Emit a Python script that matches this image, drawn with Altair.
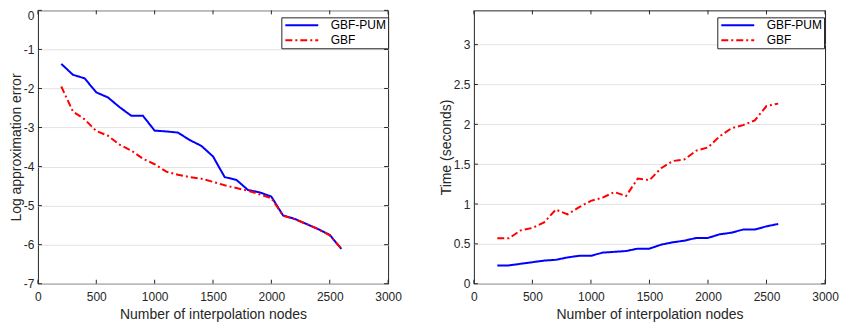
import altair as alt
import pandas as pd

# ---- data ----
nodes = [200, 300, 400, 500, 600, 700, 800, 900, 1000, 1100, 1200, 1300,
         1400, 1500, 1600, 1700, 1800, 1900, 2000, 2100, 2200, 2300, 2400,
         2500, 2600]
methods = ["GBF-PUM", "GBF"]
line_colors = ["#0000ff", "#ff0000"]

err_pum = [-1.37, -1.65, -1.74, -2.10, -2.23, -2.48, -2.70, -2.70, -3.08,
           -3.10, -3.13, -3.32, -3.47, -3.74, -4.27, -4.34, -4.60, -4.66,
           -4.77, -5.25, -5.34, -5.47, -5.60, -5.75, -6.11]
err_gbf = [-1.95, -2.59, -2.79, -3.09, -3.21, -3.44, -3.59, -3.80, -3.94,
           -4.13, -4.21, -4.27, -4.31, -4.39, -4.48, -4.55, -4.62, -4.71,
           -4.81, -5.26, -5.35, -5.47, -5.60, -5.76, -6.10]
time_pum = [0.23, 0.23, 0.25, 0.27, 0.29, 0.30, 0.33, 0.35, 0.35, 0.39,
            0.40, 0.41, 0.44, 0.44, 0.49, 0.52, 0.54, 0.575, 0.575, 0.62,
            0.64, 0.68, 0.68, 0.72, 0.75]
time_gbf = [0.57, 0.57, 0.67, 0.70, 0.77, 0.93, 0.87, 0.96, 1.04, 1.08,
            1.15, 1.10, 1.32, 1.30, 1.45, 1.54, 1.56, 1.67, 1.71, 1.85,
            1.95, 1.99, 2.05, 2.23, 2.26]

x_ticks = [0, 500, 1000, 1500, 2000, 2500, 3000]
err_ticks = [-7, -6, -5, -4, -3, -2, -1, 0]
time_ticks = [0, 0.5, 1, 1.5, 2, 2.5, 3]
x_domain = [0, 3000]
err_domain = [-7, 0]
time_domain = [0, 3.43]

x_title = "Number of interpolation nodes"
err_title = "Log approximation error"
time_title = "Time (seconds)"

FONT = "Liberation Sans"
INK = "#262626"


def panel(series_a, series_b, ydom, yticks, ytitle, w, h, legend_x, top_label_test):
    df = pd.DataFrame({
        "nodes": nodes + nodes,
        "value": series_a + series_b,
        "method": [methods[0]] * len(nodes) + [methods[1]] * len(nodes),
    })
    xs = alt.Scale(domain=x_domain, nice=False, zero=False)
    ys = alt.Scale(domain=ydom, nice=False, zero=False)
    leg = alt.Legend(
        title=None, orient="none", legendX=legend_x, legendY=7,
        symbolType="M-6.6,0H6.6", symbolSize=25, symbolStrokeWidth=2,
        symbolOffset=12.5, labelOffset=23,
        labelFont=FONT, labelFontSize=12, labelColor="black",
        strokeColor=INK, fillColor="white", padding=2, rowPadding=3,
    )
    xenc = alt.X("nodes:Q", scale=xs, axis=alt.Axis(
        values=x_ticks, title=x_title, labelExpr="'' + datum.value",
        labelFlush=False, grid=False, domain=False, ticks=False,
        labelPadding=8, titlePadding=5))
    yenc = alt.Y("value:Q", scale=ys, axis=alt.Axis(
        values=yticks, title=ytitle, labelExpr="'' + datum.value",
        labelFlush=False,
        labelBaseline=alt.condition(top_label_test, alt.value("top"), alt.value("middle")),
        grid=True, gridColor="#e3e3e3", domain=False, ticks=False,
        labelPadding=4, titlePadding=0))
    enc = dict(
        x=xenc, y=yenc,
        color=alt.Color("method:N", scale=alt.Scale(domain=methods, range=line_colors),
                        legend=leg),
        strokeDash=alt.StrokeDash("method:N", scale=alt.Scale(
            domain=methods, range=[[1, 0], [7, 3, 2, 3]]), legend=leg),
    )
    base = alt.Chart(df)
    line_a = base.transform_filter(alt.datum.method == methods[0]).mark_line(
        strokeWidth=2).encode(**enc)
    line_b = base.transform_filter(alt.datum.method == methods[1]).mark_line(
        strokeWidth=2).encode(**enc)

    xt = alt.Chart(pd.DataFrame({"nodes": x_ticks}))
    yt = alt.Chart(pd.DataFrame({"value": yticks}))
    ts = dict(color=INK, strokeWidth=1)
    t_bottom = xt.mark_rule(**ts).encode(x=xenc, y=alt.value(h), y2=alt.value(h - 4))
    t_top = xt.mark_rule(**ts).encode(x=xenc, y=alt.value(0), y2=alt.value(4))
    t_left = yt.mark_rule(**ts).encode(y=yenc, x=alt.value(0), x2=alt.value(4))
    t_right = yt.mark_rule(**ts).encode(y=yenc, x=alt.value(w - 4), x2=alt.value(w))
    return alt.layer(line_a, line_b, t_bottom, t_top, t_left, t_right).properties(
        width=w, height=h)


left = panel(err_pum, err_gbf, err_domain, err_ticks, err_title, 351, 274, 244,
             "datum.value == 0")
right = panel(time_pum, time_gbf, time_domain, time_ticks, time_title, 352, 274, 244,
              "false")

chart = alt.hconcat(left, right, spacing=36).resolve_scale(
    color="independent", strokeDash="independent"
).resolve_legend(
    color="independent", strokeDash="independent"
).properties(padding=0).configure_view(
    stroke=INK, strokeWidth=1
).configure_axis(
    labelFont=FONT, labelFontSize=12, labelColor=INK,
    titleFont=FONT, titleFontSize=14, titleColor=INK, titleFontWeight="normal",
)

chart.save("out.html", embed_options={"renderer": "svg", "actions": False})
